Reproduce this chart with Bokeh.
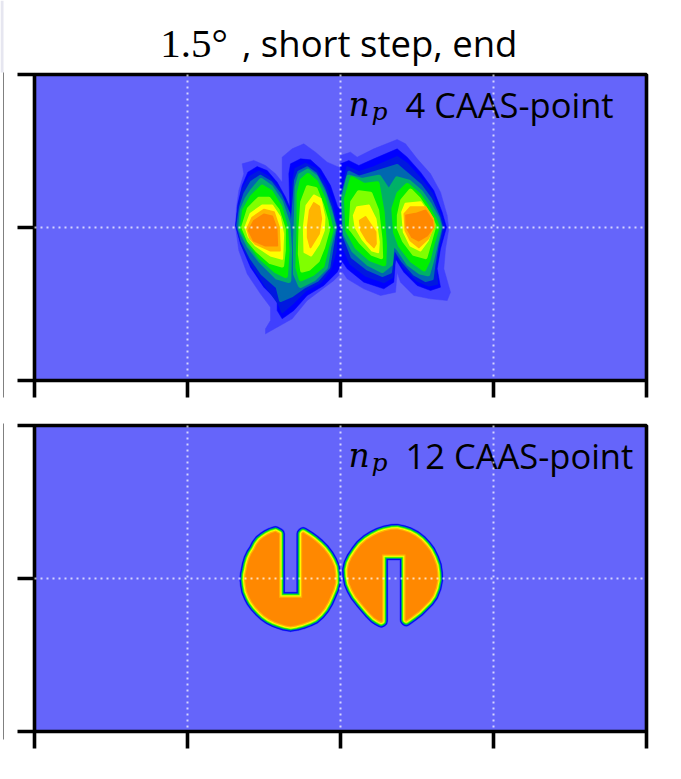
from bokeh.plotting import figure
from bokeh.layouts import column, row
from bokeh.models import Range1d, FixedTicker, ColumnDataSource
from bokeh.core.properties import value
from bokeh.embed import file_html
from bokeh.resources import INLINE

title_math = "1.5°"
title_text = ", short step, end"
panel_labels = ["4 CAAS-point", "12 CAAS-point"]

level_colors = ["#4040ff", "#0000ff", "#0018e0", "#0068b0", "#00b068",
                "#00f000", "#80ff00", "#ffff00", "#ffb400", "#ff8800"]
level_strokes = [0.5, 0.5, 2, 3, 5, 5, 4, 2, 2, 2]

# Upper panel field: contour regions, outermost level first.
# Left pair of lobes
left_levels = [
 [[(50,85),(85,75),(120,90),(150,115),(170,140),(170,65),(200,40),(235,25),(270,50),(305,80),(340,95),(350,100),(350,410),(325,435),(285,465),(245,495),(200,550),(155,575),(120,595),(120,580),(135,555),(135,515),(105,475),(65,415),(40,345),(30,275),(33,215),(40,165),(55,115)]],
 [[(67,110),(95,93),(125,105),(155,140),(180,185),(193,215),(190,115),(195,85),(225,70),(255,73),(285,100),(315,150),(337,215),(350,225),(350,380),(335,410),(295,450),(245,480),(205,525),(170,550),(155,525),(155,495),(115,455),(75,395),(45,325),(30,270),(37,205),(50,150)]],
 [[(72,125),(100,108),(130,125),(160,160),(185,210),(197,270),(202,145),(210,100),(240,85),(270,100),(300,150),(320,205),(335,275),(330,350),(315,400),(285,440),(240,465),(200,505),(170,530),(160,505),(120,450),(80,390),(48,325),(33,270),(40,210),(52,160)]],
 [[(78,140),(105,122),(135,140),(165,180),(190,235),(197,300),(210,135),(220,110),(245,97),(270,115),(295,160),(315,215),(330,275),(320,335),(310,395),(275,435),(235,455),(200,480),(165,495),(155,455),(110,415),(75,365),(50,315),(37,270),(45,215),(58,175)]],
 [[(82,165),(107,135),(135,155),(165,200),(187,265),(192,340),(190,435),(155,425),(105,375),(70,330),(45,280),(50,225),(65,190)],
  [(215,155),(225,120),(247,107),(270,125),(295,175),(313,230),(325,275),(310,335),(300,395),(265,430),(225,450),(210,415),(210,315),(213,235)]],
 [[(57,225),(80,185),(110,155),(135,170),(163,215),(180,275),(185,345),(180,420),(150,405),(105,365),(75,325),(50,280)],
  [(221,175),(230,135),(247,120),(270,140),(293,190),(307,240),(317,283),(303,335),(290,390),(260,415),(227,430),(217,395),(220,305)]],
 [[(53,275),(70,220),(100,190),(130,190),(157,225),(175,280),(175,345),(170,390),(135,380),(95,345),(70,315)],
  [(225,275),(230,200),(247,155),(270,160),(290,210),(303,255),(307,285),(293,335),(277,375),(250,400),(230,405),(223,355)]],
 [[(60,275),(75,235),(110,210),(140,210),(163,245),(173,295),(170,370),(135,360),(90,330),(70,305)],
  [(235,275),(243,210),(265,180),(285,190),(297,245),(295,285),(280,325),(257,360),(237,350)]],
 [[(65,280),(80,247),(115,223),(145,230),(160,275),(163,345),(135,345),(90,325),(73,307)],
  [(247,275),(253,225),(265,203),(281,213),(287,250),(280,295),(255,335),(247,305)]],
 [[(70,285),(85,257),(115,237),(140,243),(153,280),(155,330),(120,330),(85,315)]],
]
# Right pair of lobes
right_levels = [
 [[(0,60),(30,50),(50,65),(100,40),(170,12),(195,25),(230,70),(270,115),(300,170),(320,240),(325,280),(315,340),(310,400),(330,470),(320,495),(270,490),(220,480),(180,440),(170,410),(165,470),(120,480),(70,460),(20,430),(0,400)]],
 [[(0,85),(25,75),(55,90),(100,70),(170,40),(200,65),(240,110),(280,165),(305,230),(318,275),(300,340),(290,400),(300,455),(270,465),(230,450),(190,410),(165,370),(160,440),(130,460),(70,440),(20,400),(0,370)]],
 [[(20,95),(55,110),(100,95),(170,65),(200,85),(240,130),(275,175),(300,240),(310,275),(295,335),(285,395),(290,445),(265,450),(230,435),(190,395),(165,355),(155,425),(130,440),(75,420),(30,385),(5,330),(5,180)]],
 [[(25,110),(55,125),(105,110),(170,90),(200,115),(240,150),(270,190),(295,245),(303,275),(290,330),(280,390),(275,430),(255,435),(220,415),(185,375),(160,335),(150,410),(125,420),(80,400),(35,365),(10,300),(5,180)]],
 [[(25,125),(65,135),(115,125),(145,170),(170,130),(205,140),(240,170),(265,205),(290,250),(297,275),(285,325),(272,380),(262,415),(240,410),(205,385),(175,340),(155,320),(150,385),(125,405),(85,385),(40,345),(15,295),(10,190)]],
 [[(35,130),(70,150),(110,145),(125,230),(132,330),(130,385),(90,370),(50,335),(22,285),(18,190)],
  [(175,175),(200,150),(235,180),(260,215),(283,255),(290,275),(275,325),(262,375),(250,400),(215,375),(180,330),(165,290),(160,220)]],
 [[(30,280),(35,200),(55,170),(90,175),(110,225),(120,310),(122,365),(95,355),(60,320),(35,285)],
  [(175,240),(185,195),(210,165),(235,190),(265,235),(282,270),(268,320),(255,365),(220,355),(190,315),(175,280)]],
 [[(40,240),(50,215),(85,210),(105,250),(115,320),(113,350),(95,345),(65,310),(45,275)],
  [(185,230),(195,205),(240,200),(265,235),(278,270),(262,315),(240,345),(210,330),(190,290)]],
 [[(58,255),(75,245),(85,260),(105,290),(106,325),(100,335),(80,315),(62,285)],
  [(192,235),(210,215),(255,215),(278,250),(280,275),(262,310),(235,335),(210,315),(195,285)]],
 [[(197,240),(225,235),(255,225),(275,255),(277,275),(260,300),(235,315),(215,305),(198,275)]],
]
left_origin = (15, 15)
right_origin = (360, 15)

# Lower panel: saturated regions, read along the edge of the orange plateau
lower_left = [(146,58),(135,52),(122,56),(110,62),(98,70),(88,78),(79,90),(72,104),(63,118),(56,133),(51,150),(48,166),(45,180),(44,195),(46,213),(49,230),(56,247),(64,262),(75,277),(88,291),(101,303),(115,313),(131,321),(147,327),(163,332),(180,335),(198,332),(216,327),(235,320),(252,312),(268,298),(281,282),(292,263),(301,243),(309,224),(314,205),(314,180),(311,157),(303,138),(293,121),(280,104),(265,89),(251,77),(237,67),(226,60),(218,55),(215,58),(215,250),(146,250)]
lower_right = [(452,322),(441,316),(432,310),(418,296),(405,281),(390,263),(376,245),(365,226),(357,207),(353,186),(352,165),(356,147),(364,130),(377,110),(391,92),(408,77),(427,65),(445,56),(463,50),(482,46),(500,45),(518,49),(536,55),(555,65),(572,78),(586,93),(598,109),(609,131),(617,153),(620,174),(621,195),(616,220),(607,243),(595,260),(580,275),(565,290),(548,303),(537,311),(527,318),(525,316),(525,120),(455,120),(455,320)]

edge_bands = [(12, "#4040ff"), (11, "#0000ff"), (10, "#0018e0"), (9, "#0068b0"), (8, "#00b068"),
              (7, "#00f000"), (6, "#80ff00"), (4.5, "#ffff00"), (2.5, "#ffb400")]


def base(x0, x1, y_bottom, y_top, top_border, bottom_border):
    p = figure(frame_width=612, frame_height=306, output_backend="svg", toolbar_location=None,
               x_range=Range1d(x0, x1), y_range=Range1d(y_bottom, y_top),
               min_border_left=30, min_border_right=20,
               min_border_top=top_border, min_border_bottom=bottom_border,
               background_fill_color="#6565fa", border_fill_color="white",
               outline_line_color="black", outline_line_width=3.6, outline_line_alpha=1)
    step = (x1 - x0) / 4
    xt = [x0 + i * step for i in range(5)]
    yt = [y_top, (y_top + y_bottom) / 2, y_bottom]
    p.xaxis.ticker = FixedTicker(ticks=xt)
    p.yaxis.ticker = FixedTicker(ticks=yt)
    p.xaxis.major_label_overrides = {t: "" for t in xt}
    p.yaxis.major_label_overrides = {t: "" for t in yt}
    for ax in (p.xaxis[0], p.yaxis[0]):
        ax.major_tick_line_width = 3.6
        ax.major_tick_line_color = "black"
        ax.major_tick_out = 17
        ax.major_tick_in = 0
        ax.minor_tick_line_color = None
        ax.axis_line_color = None
        ax.major_label_text_font_size = "1px"
        ax.major_label_standoff = 0
    p.xgrid.ticker = FixedTicker(ticks=xt[1:-1])
    p.ygrid.ticker = FixedTicker(ticks=yt[1:-1])
    for g in (p.xgrid[0], p.ygrid[0]):
        g.level = "overlay"
        g.grid_line_color = "#ffffff"
        g.grid_line_alpha = 0.72
        g.grid_line_width = 2
        g.grid_line_dash = "2 4"
    return p


def txt(p, x, y, s, font, size, style="normal"):
    p.text([x], [y], text=[s], text_font=value(font), text_font_size=size, text_font_style=style,
           text_color="black", text_baseline="alphabetic", text_align="left", level="overlay")


def corner_label(p, xs, ys, text, x_text):
    txt(p, xs[0], ys[0], "n", "DejaVu Serif", "33px", "italic")
    txt(p, xs[1], ys[1], "p", "DejaVu Serif", "25px", "italic")
    txt(p, x_text, ys[0], text, "Open Sans", "34.5px")


header = figure(width=646, height=70, output_backend="svg", toolbar_location=None,
                x_range=Range1d(34, 646), y_range=Range1d(70, 0), x_axis_type=None, y_axis_type=None,
                min_border=0, outline_line_color=None)
header.grid.visible = False
txt(header, 163, 42, title_math, "Liberation Serif", "41px")
txt(header, 247, 42, title_text, "Open Sans", "36.5px")

p1 = base(-558, 1278, 750, -168, 4, 20)
xs, ys, cols, strokes = [], [], [], []
for i, color in enumerate(level_colors):
    for origin, levels in ((left_origin, left_levels), (right_origin, right_levels)):
        for region in levels[i]:
            xs.append([pt[0] + origin[0] for pt in region])
            ys.append([pt[1] + origin[1] for pt in region])
            cols.append(color)
            strokes.append(level_strokes[i])
p1.patches("xs", "ys", source=ColumnDataSource(dict(xs=xs, ys=ys, c=cols, w=strokes)),
           fill_color="c", line_color="c", line_width="w", line_join="round")
corner_label(p1, (384, 453), (-78, -57), panel_labels[0], 555)

p2 = base(-588, 1248, 651, -267, 25, 20)
rx = [[pt[0] for pt in lower_left], [pt[0] for pt in lower_right]]
ry = [[pt[1] for pt in lower_left], [pt[1] for pt in lower_right]]
for w, c in edge_bands:
    p2.patches(rx, ry, fill_color="#ff8800", line_color=c, line_width=w, line_join="round")
p2.patches(rx, ry, fill_color="#ff8800", line_color=None)
corner_label(p2, (354, 423), (-177, -156), panel_labels[1], 525)

# Sliver of the neighbouring panel at the left edge of the picture
strip = figure(width=4, height=745, output_backend="svg", toolbar_location=None,
               x_range=Range1d(0, 4), y_range=Range1d(745, 0), x_axis_type=None, y_axis_type=None,
               min_border=0, outline_line_color=None)
strip.grid.visible = False
strip.quad(left=[0], right=[3], top=[0], bottom=[72], fill_color="#e6e6f0", line_color=None)
strip.segment(x0=[3.5, 3.5], y0=[72, 423], x1=[3.5, 3.5], y1=[397, 739], line_color="black", line_width=1)

layout = row(strip, column(header, p1, p2, spacing=0), spacing=0)
open("out.html", "w").write(file_html(layout, INLINE))
